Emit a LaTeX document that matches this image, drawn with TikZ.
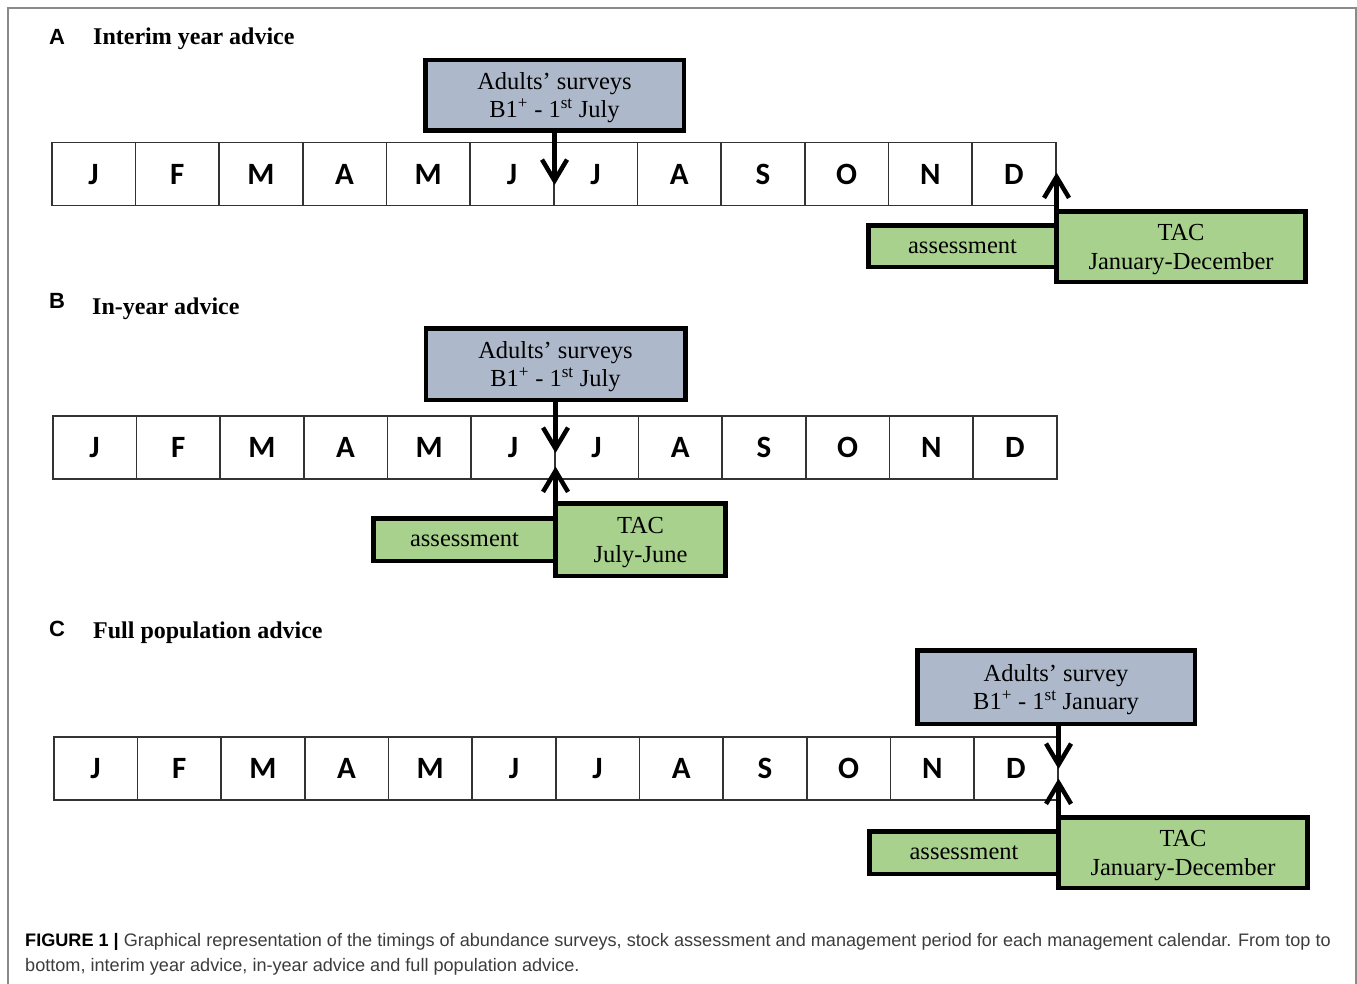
\documentclass[tikz,border=0pt]{standalone}
\usepackage{fontspec}
\setmainfont{Liberation Serif}
\newfontfamily\calfont{Carlito}
\newfontfamily\arialfont{Liberation Sans}
\usetikzlibrary{arrows.meta,positioning}
\definecolor{surveyblue}{HTML}{ADB9CA}
\definecolor{tacgreen}{HTML}{A9D18E}
\definecolor{framegray}{HTML}{8A8A8A}
\definecolor{captiongray}{HTML}{3C3C3C}

\begin{document}
\begin{tikzpicture}[x=1pt,y=-1pt,
  month/.style={draw=black!80, line width=1.5pt, fill=white, anchor=north west,
    minimum width=83.67pt, minimum height=63pt, inner sep=0pt,
    font=\calfont\bfseries\fontsize{31}{31}\selectfont},
  survey/.style={draw, line width=4.5pt, fill=surveyblue, text depth=0pt,
    align=center, font=\fontsize{24.5}{28}\selectfont},
  tac/.style={draw, line width=4.5pt, fill=tacgreen, outer sep=0pt, text depth=0pt,
    anchor=north west, align=center, font=\fontsize{24.5}{29}\selectfont},
  assess/.style={draw, line width=4.5pt, fill=tacgreen, outer sep=0pt,
    anchor=east, font=\fontsize{24.5}{29}\selectfont},
  timing/.style={line width=4.5pt, -{Straight Barb[length=21pt,width=25pt]}},
  panel/.style={anchor=west, inner sep=0pt, font=\arialfont\bfseries\fontsize{22}{22}\selectfont},
  heading/.style={anchor=west, inner sep=0pt, font=\bfseries\fontsize{24}{24}\selectfont}]
\useasboundingbox (0,0) rectangle (1357,984);
\draw[framegray, line width=1.3pt] (8,984) -- (8,8) -- (1356,8) -- (1356,984);

% A: interim year advice
\node[panel] (lblA) at (49,37) {A};
\node[heading] (hdA) at (93,39) {Interim year advice};
\foreach \m [count=\i] in {J,F,M,A,M,J,J,A,S,O,N,D}
  \node[month] (a\i) at ({51+(\i-1)*83.67},142) {\m};
\node[survey, minimum width=258.5pt, minimum height=70.5pt, above=9pt of a6.north east] (surA)
  {Adults’ surveys\\B1\textsuperscript{+} - 1\textsuperscript{st} July};
\node[assess, minimum width=188pt, minimum height=41.5pt] (asA) at ([yshift=-40pt]a12.south east) {assessment};
\node[tac, minimum width=249pt, minimum height=70.5pt] (tacA) at ([yshift=-5pt]a12.south east)
  {TAC\\January-December};
\draw[timing] (surA.south) -- ([yshift=-43pt]a6.north east);
\draw[timing] (tacA.north west) -- ([yshift=34pt]a12.south east);

% B: in-year advice
\node[panel] (lblB) at (49,301) {B};
\node[heading] (hdB) at (92,309) {In-year advice};
\foreach \m [count=\i] in {J,F,M,A,M,J,J,A,S,O,N,D}
  \node[month] (b\i) at ({52+(\i-1)*83.67},415) {\m};
\node[survey, minimum width=259.5pt, minimum height=71.5pt, above=13pt of b6.north east] (surB)
  {Adults’ surveys\\B1\textsuperscript{+} - 1\textsuperscript{st} July};
\node[assess, minimum width=182pt, minimum height=42.5pt] (asB) at ([yshift=-60pt]b6.south east) {assessment};
\node[tac, minimum width=170pt, minimum height=72.5pt] (tacB) at ([yshift=-24pt]b6.south east)
  {TAC\\July-June};
\draw[timing] (surB.south) -- ([yshift=-38pt]b6.north east);
\draw[timing] (tacB.north west) -- ([yshift=13pt]b6.south east);

% C: full population advice
\node[panel] (lblC) at (49,629) {C};
\node[heading] (hdC) at (93,633) {Full population advice};
\foreach \m [count=\i] in {J,F,M,A,M,J,J,A,S,O,N,D}
  \node[month] (c\i) at ({53+(\i-1)*83.67},736) {\m};
\node[survey, minimum width=277.5pt, minimum height=73.5pt, above=10pt of c12.north east, xshift=-2.5pt] (surC)
  {Adults’ survey\\B1\textsuperscript{+} - 1\textsuperscript{st} January};
\node[assess, minimum width=189pt, minimum height=42.5pt] (asC) at ([yshift=-52pt]c12.south east) {assessment};
\node[tac, minimum width=249pt, minimum height=70.5pt] (tacC) at ([yshift=-17pt]c12.south east)
  {TAC\\January-December};
\draw[timing] ([xshift=2.5pt]surC.south) -- ([yshift=-33pt]c12.north east);
\draw[timing] (tacC.north west) -- ([yshift=22pt]c12.south east);

% caption
\node[anchor=north west, inner sep=0pt, align=left, text=captiongray,
  font=\arialfont\fontsize{18.1}{25}\selectfont] (cap) at (25,933)
  {\textcolor{black}{\textbf{FIGURE 1 |}} Graphical representation of the timings of abundance surveys, stock assessment and management period for each management calendar. From top to\\
   bottom, interim year advice, in-year advice and full population advice.};
\end{tikzpicture}
\end{document}
